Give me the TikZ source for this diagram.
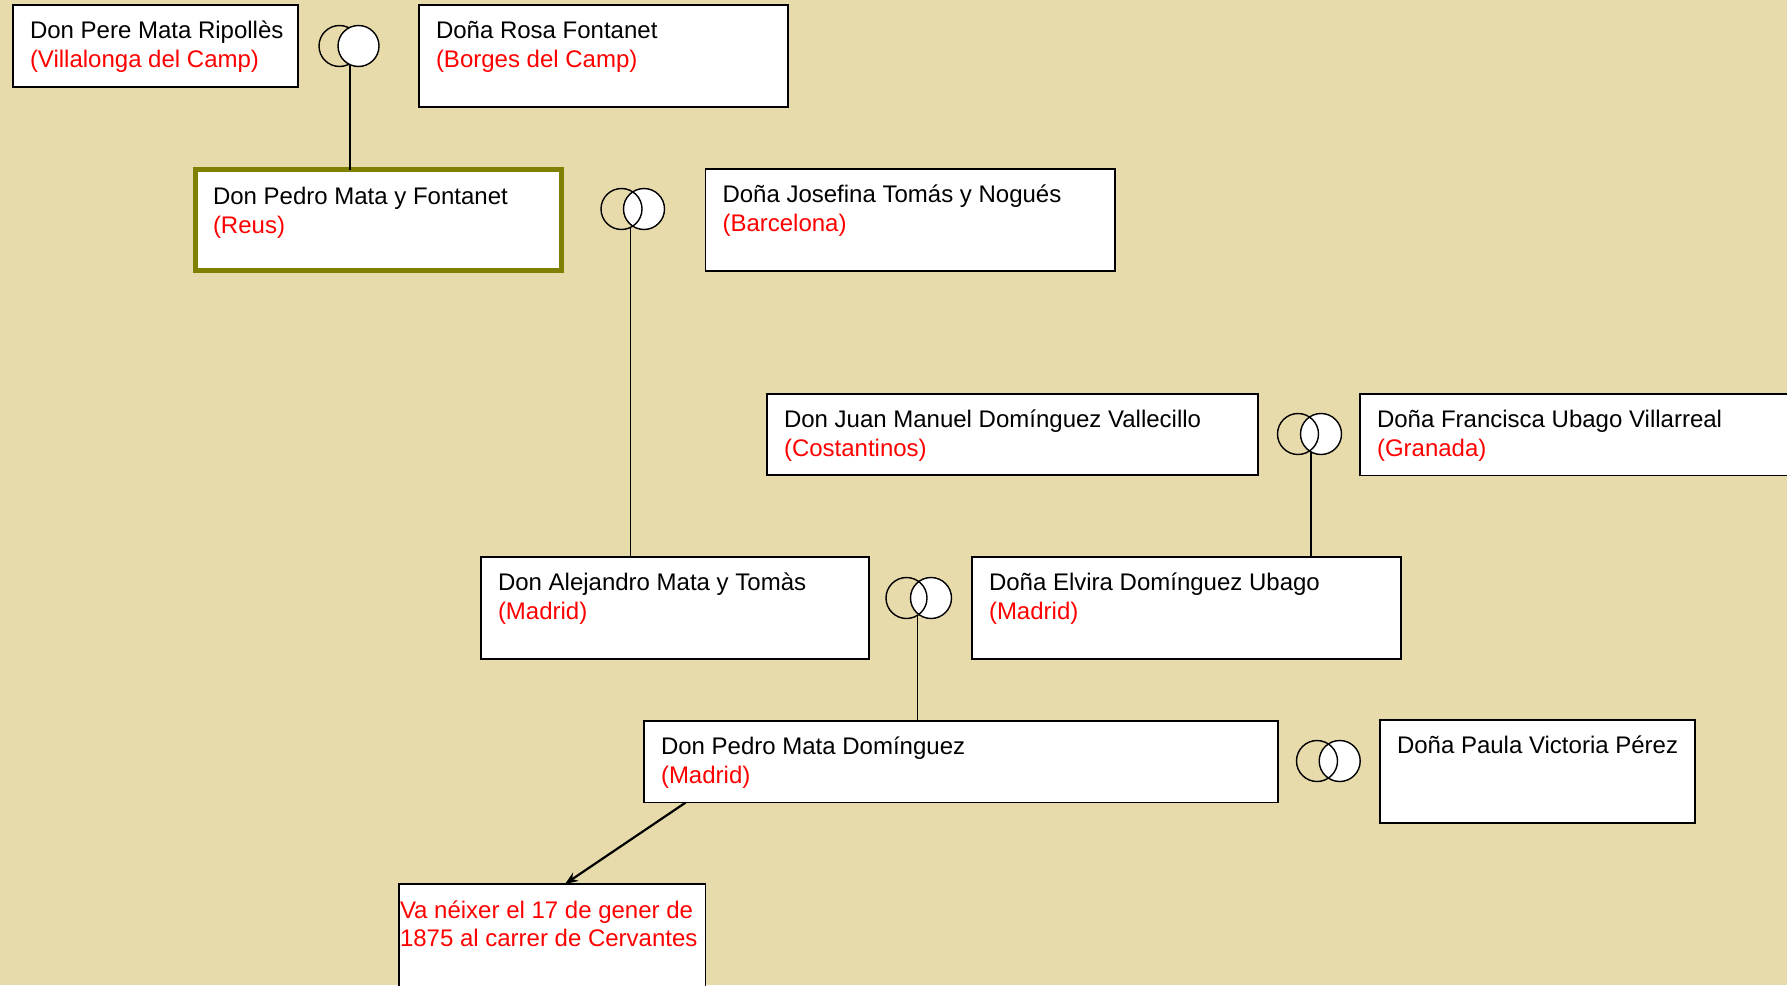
\documentclass[tikz,border=0pt]{standalone}
\usepackage{fontspec}
\setmainfont{Liberation Sans}
\usetikzlibrary{arrows.meta,calc}
\definecolor{bgc}{RGB}{231,219,171}
\definecolor{olivebox}{RGB}{128,128,0}
\definecolor{redtxt}{RGB}{255,0,0}
\tikzset{
 box/.style={draw=black, fill=white, line width=1.5pt, rectangle, inner sep=0pt, outer sep=0pt, anchor=north west},
 pbox/.style={box, draw=olivebox, line width=5pt},
 nm/.style={anchor=base west, inner sep=0pt, outer sep=0pt, font=\fontsize{24}{29}\selectfont, text=black},
 pl/.style={nm, text=redtxt},
 ring/.style={circle, draw=black, line width=1.4pt, minimum size=41pt, inner sep=0pt, outer sep=0pt},
 wring/.style={ring, fill=white},
 link/.style={draw=black, line width=1.4pt},
 arr/.style={draw=black, line width=2.2pt, -{Stealth[length=13pt,width=10pt]}}
}
\begin{document}
\begin{tikzpicture}[x=1pt,y=-1pt]
\useasboundingbox (0,0) rectangle (1787,985);
\clip (0,0) rectangle (1787,985);
\fill[bgc] (0,0) rectangle (1787,985);

% boxes
\node[box, minimum width=285pt, minimum height=82pt] (pere) at (13,5) {};
\node[nm] (pere-n) at ([shift={(17,33.5)}]pere.north west) {Don Pere Mata Ripollès};
\node[pl] (pere-p) at ([shift={(17,62.5)}]pere.north west) {(Villalonga del Camp)};

\node[box, minimum width=369pt, minimum height=102pt] (rosa) at (419,5) {};
\node[nm] (rosa-n) at ([shift={(17,33.5)}]rosa.north west) {Doña Rosa Fontanet};
\node[pl] (rosa-p) at ([shift={(17,62.5)}]rosa.north west) {(Borges del Camp)};

\node[pbox, minimum width=366pt, minimum height=101pt] (pedro) at (195.5,169.5) {};
\node[nm] (pedro-n) at ([shift={(17.5,34.5)}]pedro.north west) {Don Pedro Mata y Fontanet};
\node[pl] (pedro-p) at ([shift={(17.5,63.5)}]pedro.north west) {(Reus)};

\node[box, minimum width=409.5pt, minimum height=102pt] (josefina) at (705.5,169) {};
\node[nm] (josefina-n) at ([shift={(17,33.5)}]josefina.north west) {Doña Josefina Tomás y Nogués};
\node[pl] (josefina-p) at ([shift={(17,62.5)}]josefina.north west) {(Barcelona)};

\node[box, minimum width=491pt, minimum height=81pt] (juan) at (767,394) {};
\node[nm] (juan-n) at ([shift={(17,33.5)}]juan.north west) {Don Juan Manuel Domínguez Vallecillo};
\node[pl] (juan-p) at ([shift={(17,62.5)}]juan.north west) {(Costantinos)};

\node[box, minimum width=460pt, minimum height=81.5pt] (francisca) at (1360,394) {};
\node[nm] (francisca-n) at ([shift={(17,33.5)}]francisca.north west) {Doña Francisca Ubago Villarreal};
\node[pl] (francisca-p) at ([shift={(17,62.5)}]francisca.north west) {(Granada)};

\node[box, minimum width=388pt, minimum height=102pt] (alejandro) at (481,557) {};
\node[nm] (alejandro-n) at ([shift={(17,33.5)}]alejandro.north west) {Don Alejandro Mata y Tomàs};
\node[pl] (alejandro-p) at ([shift={(17,62.5)}]alejandro.north west) {(Madrid)};

\node[box, minimum width=429pt, minimum height=102pt] (elvira) at (972,557) {};
\node[nm] (elvira-n) at ([shift={(17,33.5)}]elvira.north west) {Doña Elvira Domínguez Ubago};
\node[pl] (elvira-p) at ([shift={(17,62.5)}]elvira.north west) {(Madrid)};

\node[box, minimum width=634pt, minimum height=81.5pt] (pedrod) at (644,721) {};
\node[nm] (pedrod-n) at ([shift={(17,33.5)}]pedrod.north west) {Don Pedro Mata Domínguez};
\node[pl] (pedrod-p) at ([shift={(17,62.5)}]pedrod.north west) {(Madrid)};

\node[box, minimum width=315pt, minimum height=103pt] (paula) at (1380,720) {};
\node[nm] (paula-n) at ([shift={(17,33.5)}]paula.north west) {Doña Paula Victoria Pérez};

\node[box, minimum width=306.5pt, minimum height=130pt] (birth) at (399,884) {};
\node[pl] (birth-a) at ([shift={(1,34)}]birth.north west) {Va néixer el 17 de gener de};
\node[pl] (birth-b) at ([shift={(1,62)}]birth.north west) {1875 al carrer de Cervantes};

% rings
\node[ring] (r1a) at (339.5,46) {};
\node[wring] (r1b) at (358.5,46) {};
\coordinate (r1x) at (350,65);

\node[wring] (r2b) at (644,209) {};
\node[ring] (r2a) at (621.5,209) {};
\coordinate (r2x) at (630.5,227);

\node[wring] (r3b) at (1321,434) {};
\node[ring] (r3a) at (1298,434) {};
\coordinate (r3x) at (1311,452);

\node[wring] (r4b) at (931,598) {};
\node[ring] (r4a) at (906.5,598) {};
\coordinate (r4x) at (917.6,615.5);

\node[wring] (r5b) at (1339.7,761) {};
\node[ring] (r5a) at (1317,761) {};

% connectors
\draw[link] (r1x) -- (r1x |- pedro.north);
\draw[link] (r2x) -- (r2x |- alejandro.north);
\draw[link] (r3x) -- (r3x |- elvira.north);
\draw[link] (r4x) -- (r4x |- pedrod.north);
\draw[arr] ([xshift=41.7pt]pedrod.south west) -- ([xshift=166pt]birth.north west);
\end{tikzpicture}
\end{document}
